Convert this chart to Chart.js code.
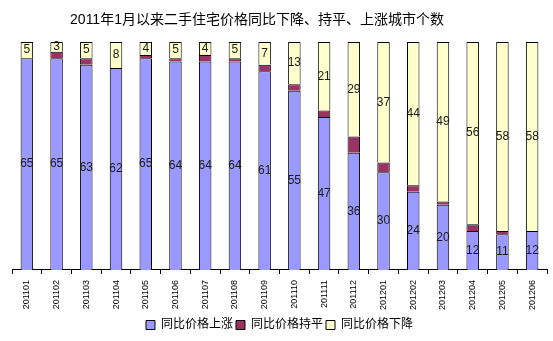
<!DOCTYPE html>
<html>
<head>
<meta charset="utf-8">
<script src="https://cdn.jsdelivr.net/npm/chart.js@4"></script>
<style>
  html, body { margin: 0; padding: 0; background: #fff; }
  #wrap { width: 553px; height: 341px; }
</style>
</head>
<body>
<div id="wrap"><canvas id="myChart"></canvas></div>
<script>
const months = ["201101", "201102", "201103", "201104", "201105", "201106", "201107", "201108", "201109",
  "201110", "201111", "201112", "201201", "201202", "201203", "201204", "201205", "201206"];
const upCities = [65, 65, 63, 62, 65, 64, 64, 64, 61, 55, 47, 36, 30, 24, 20, 12, 11, 12];
const flatCities = [0, 2, 2, 0, 1, 1, 2, 1, 2, 2, 2, 5, 3, 2, 1, 2, 1, 0];
const downCities = [5, 3, 5, 8, 4, 5, 4, 5, 7, 13, 21, 29, 37, 44, 49, 56, 58, 58];
const chartTitle = "2011年1月以来二手住宅价格同比下降、持平、上涨城市个数";

const fontFamily = "'Liberation Sans', Arial, 'Noto Sans CJK SC', sans-serif";

// title sits a bit left of centre, like the original
const titleText = {
  id: "titleText",
  afterDraw(chart) {
    const ctx = chart.ctx;
    ctx.save();
    ctx.font = "14px " + fontFamily;
    ctx.fillStyle = "#000";
    ctx.textAlign = "center";
    ctx.textBaseline = "middle";
    ctx.fillText(chartTitle, 257, 20);
    ctx.restore();
  },
};

const segmentLabels = {
  id: "segmentLabels",
  afterDatasetsDraw(chart) {
    const ctx = chart.ctx;
    ctx.save();
    ctx.font = "12px " + fontFamily;
    ctx.fillStyle = "#1a1a1a";
    ctx.textAlign = "center";
    ctx.textBaseline = "middle";
    [0, 2].forEach((i) => {
      const meta = chart.getDatasetMeta(i);
      meta.data.forEach((bar, j) => {
        const v = chart.data.datasets[i].data[j];
        if (!v) return;
        ctx.fillText(String(v), bar.x, (bar.y + bar.base) / 2);
      });
    });
    ctx.restore();
  },
};

const ctx = document.getElementById("myChart");

new Chart(ctx, {
  type: "bar",
  data: {
    labels: months,
    datasets: [
      {
        label: "同比价格上涨",
        data: upCities,
        backgroundColor: "#9999ff",
        borderColor: "#000",
        borderWidth: 1,
      },
      {
        label: "同比价格持平",
        data: flatCities,
        backgroundColor: "#993366",
        borderColor: "#000",
        borderWidth: 1,
      },
      {
        label: "同比价格下降",
        data: downCities,
        backgroundColor: "#ffffcc",
        borderColor: "#000",
        borderWidth: 1,
      },
    ],
  },
  options: {
    responsive: true,
    maintainAspectRatio: false,
    animation: false,
    datasets: {
      bar: { barPercentage: 0.42, categoryPercentage: 1 },
    },
    layout: { padding: { left: 12, right: 6, top: 42, bottom: 0 } },
    scales: {
      x: {
        stacked: true,
        border: { color: "#000", width: 1 },
        grid: {
          display: true,
          drawOnChartArea: false,
          offset: true,
          color: "#000",
          tickLength: 4,
        },
        ticks: {
          minRotation: 90,
          maxRotation: 90,
          color: "#000",
          padding: 6,
          font: { family: fontFamily, size: 9 },
        },
      },
      y: {
        stacked: true,
        display: false,
        min: 0,
        max: 70,
      },
    },
    plugins: {
      title: { display: false },
      legend: {
        position: "bottom",
        labels: {
          color: "#000",
          boxWidth: 9,
          boxHeight: 9,
          padding: 3,
          font: { family: fontFamily, size: 12 },
        },
      },
      tooltip: { enabled: false },
    },
  },
  plugins: [segmentLabels, titleText],
});
</script>
</body>
</html>
